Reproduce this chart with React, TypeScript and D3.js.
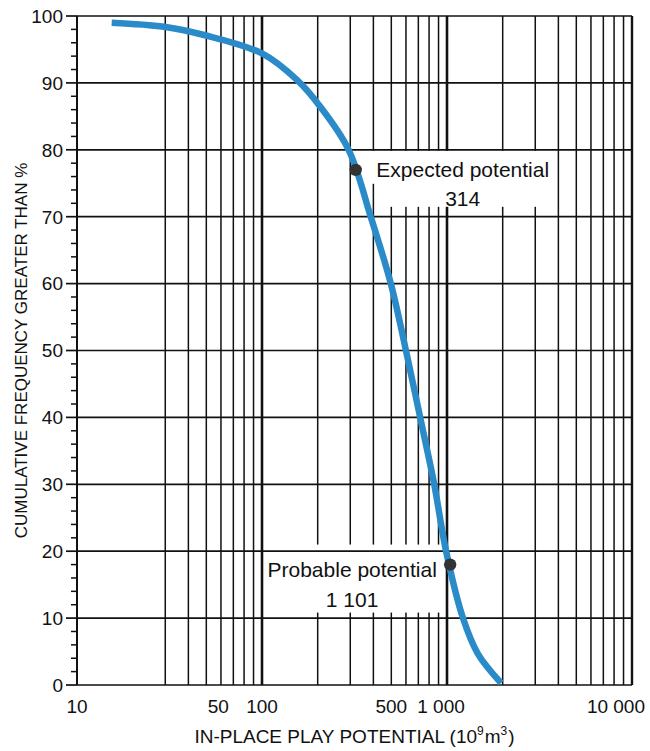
import React from 'react';
import * as d3 from 'd3';

// curve: play size (10^9 m3) vs cumulative frequency (%)
const potential = [15.4, 29.5, 48, 100, 155, 207, 294, 387, 497, 600, 716, 853, 989, 1220, 1466, 1960];
const frequency = [99.0, 98.4, 97.2, 94.4, 90.4, 86.4, 80, 70, 60, 50, 40, 30, 20, 10, 4.7, 0.3];

const markerNames = ['Expected potential', 'Probable potential'];
const markerValues = ['314', '1 101'];
const markerX = [321, 1040];
const markerY = [77, 18];

const xTickValues = [10, 50, 100, 500, 1000, 10000];
const xTickLabels = ['10', '50', '100', '500', '1 000', '10 000'];
const yTickValues = [0, 10, 20, 30, 40, 50, 60, 70, 80, 90, 100];

const W = 650;
const H = 751;
const FONT = '"Liberation Sans", Arial, Helvetica, sans-serif';

const App = () => {
  const x = d3.scaleLog().domain([10, 10000]).range([77, 632]);
  const y = d3.scaleLinear().domain([0, 100]).range([685, 16]);

  // the original grid has no line at 20
  const vLines = x.ticks().filter(v => v !== 10 && v !== 20 && v !== 10000);
  const minorY = d3.range(0, 101, 2).filter(v => v % 10 !== 0);

  const line = d3
    .line<number>()
    .x((_, i) => x(potential[i]))
    .y(d => y(d))
    .curve(d3.curveCatmullRom.alpha(0.5));

  const ex = x(markerX[0]);
  const ey = y(markerY[0]);
  const px = x(markerX[1]);
  const py = y(markerY[1]);

  const tickDx = (v: number) => (v === 50 ? 12 : v === 1000 ? -6 : 0);

  return (
    <svg width={W} height={H} style={{ position: 'absolute', left: 0, top: 0, background: '#fff' }}>
      {/* vertical grid */}
      <g>
        {vLines.map(v => (
          <line
            key={v}
            x1={x(v)}
            x2={x(v)}
            y1={y(100)}
            y2={y(0)}
            stroke="#111"
            strokeWidth={v === 100 || v === 1000 ? 2.6 : 1.5}
          />
        ))}
      </g>

      {/* white patches behind the annotations */}
      <rect x={ex + 5} y={y(80) + 1} width={194} height={33} fill="#fff" />
      <rect x={ex + 25} y={y(80) + 33} width={174} height={24} fill="#fff" />
      <rect x={px - 184} y={py - 20} width={176} height={68} fill="#fff" />

      {/* horizontal grid */}
      <g>
        {yTickValues.map(v => (
          <line key={v} x1={x(10)} x2={x(10000)} y1={y(v)} y2={y(v)} stroke="#111" strokeWidth={1.7} />
        ))}
      </g>

      {/* frame */}
      <line x1={x(10)} x2={x(10)} y1={y(100)} y2={y(0)} stroke="#111" strokeWidth={2} />
      <line x1={x(10000)} x2={x(10000)} y1={y(100)} y2={y(0)} stroke="#111" strokeWidth={2.4} />

      {/* y ticks */}
      <g>
        {yTickValues.map(v => (
          <line key={v} x1={66} x2={x(10)} y1={y(v)} y2={y(v)} stroke="#111" strokeWidth={1.7} />
        ))}
        {minorY.map(v => (
          <line key={v} x1={71} x2={x(10)} y1={y(v)} y2={y(v)} stroke="#111" strokeWidth={1.5} />
        ))}
        {yTickValues.map(v => (
          <text
            key={v}
            x={63}
            y={y(v)}
            dy="0.36em"
            textAnchor="end"
            fontFamily={FONT}
            fontSize={19}
            fill="#111"
          >
            {v}
          </text>
        ))}
      </g>

      {/* x tick labels */}
      <g>
        {xTickValues.map((v, i) =>
          v === 10000 ? (
            <text key={v} x={x(v) + 13} y={713} textAnchor="end" fontFamily={FONT} fontSize={19} fill="#111">
              {xTickLabels[i]}
            </text>
          ) : (
            <text
              key={v}
              x={x(v) + tickDx(v)}
              y={713}
              textAnchor="middle"
              fontFamily={FONT}
              fontSize={19}
              fill="#111"
            >
              {xTickLabels[i]}
            </text>
          )
        )}
      </g>

      {/* curve */}
      <path d={line(frequency) || ''} fill="none" stroke="#2a8bc8" strokeWidth={6.5} />

      {/* markers */}
      {markerX.map((v, i) => (
        <circle key={i} cx={x(v)} cy={y(markerY[i])} r={6.2} fill="#333" />
      ))}

      <g fontFamily={FONT} fontSize={21} fill="#111" textAnchor="middle">
        <text x={ex + 107} y={ey + 7}>{markerNames[0]}</text>
        <text x={ex + 107} y={ey + 36}>{markerValues[0]}</text>
        <text x={px - 98} y={py + 12}>{markerNames[1]}</text>
        <text x={px - 98} y={py + 42}>{markerValues[1]}</text>
      </g>

      {/* axis titles */}
      <text x={(x(10) + x(10000)) / 2} y={743} textAnchor="middle" fontFamily={FONT} fontSize={19} fill="#111">
        IN-PLACE PLAY POTENTIAL (10
        <tspan dy={-8} fontSize={12}>9</tspan>
        <tspan dy={8} dx={1}>m</tspan>
        <tspan dy={-8} fontSize={12}>3</tspan>
        <tspan dy={8} dx={1}>)</tspan>
      </text>
      <text
        transform={`translate(27, ${(y(0) + y(100)) / 2}) rotate(-90)`}
        textAnchor="middle"
        fontFamily={FONT}
        fontSize={17}
        fill="#111"
      >
        CUMULATIVE FREQUENCY GREATER THAN %
      </text>
    </svg>
  );
};

export default App;
